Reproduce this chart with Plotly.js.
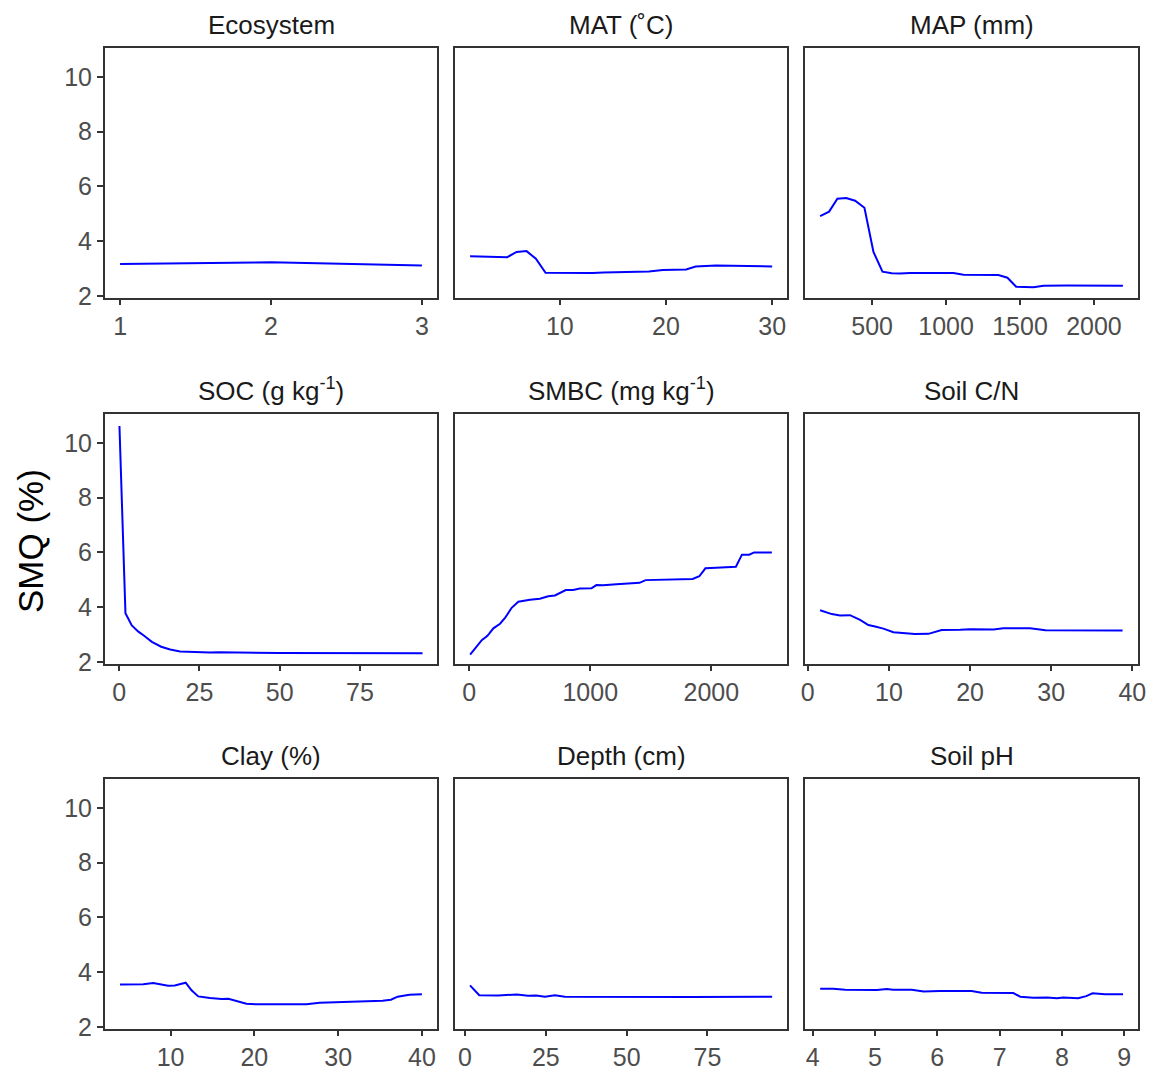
<!DOCTYPE html>
<html>
<head>
<meta charset="utf-8">
<script src="https://cdn.plot.ly/plotly-3.0.1.min.js"></script>
<style>html,body{margin:0;padding:0;background:#fff;}#chart{width:1153px;height:1069px;}</style>
</head>
<body>
<div id="chart"></div>
<script>
// ---- data ----
const panelTitles = ["Ecosystem", "MAT (˚C)", "MAP (mm)", "SOC (g kg<sup>-1</sup>)", "SMBC (mg kg<sup>-1</sup>)", "Soil C/N", "Clay (%)", "Depth (cm)", "Soil pH"];

const ecoX = [1, 2, 3];
const ecoY = [3.17, 3.23, 3.12];

const matX = [1.55, 5.05, 5.93, 6.87, 7.75, 8.66, 13.1, 14.1, 18.4, 19.7, 21.9, 22.8, 24.7, 27.8, 29.1, 30];
const matY = [3.45, 3.42, 3.61, 3.64, 3.36, 2.85, 2.84, 2.86, 2.90, 2.95, 2.97, 3.08, 3.12, 3.10, 3.08, 3.08];

const mapX = [148, 209, 265, 324, 385, 448, 509, 570, 633, 689, 757, 1050, 1118, 1185, 1354, 1415, 1474, 1591, 1659, 1817, 2020, 2196];
const mapY = [4.92, 5.08, 5.55, 5.58, 5.48, 5.22, 3.61, 2.89, 2.83, 2.82, 2.84, 2.84, 2.78, 2.77, 2.77, 2.67, 2.34, 2.32, 2.38, 2.39, 2.39, 2.38];

const socX = [0.1, 1.97, 3.94, 6.0, 7.88, 10.2, 13.1, 15.9, 19.0, 22.1, 25.2, 28.3, 31.0, 50, 94.5];
const socY = [10.61, 3.78, 3.34, 3.11, 2.95, 2.74, 2.56, 2.46, 2.39, 2.37, 2.37, 2.35, 2.36, 2.33, 2.32];

const smbcX = [8, 49, 104, 151, 200, 255, 296, 351, 406, 502, 584, 653, 708, 798, 859, 914, 1010, 1051, 1106, 1216, 1407, 1457, 1627, 1846, 1901, 1951, 2039, 2203, 2253, 2313, 2354, 2500];
const smbcY = [2.27, 2.49, 2.80, 2.96, 3.23, 3.40, 3.61, 3.98, 4.20, 4.27, 4.31, 4.40, 4.43, 4.63, 4.63, 4.68, 4.69, 4.81, 4.80, 4.84, 4.89, 4.99, 5.00, 5.03, 5.13, 5.42, 5.44, 5.48, 5.92, 5.92, 6.00, 6.00];

const cnX = [1.52, 2.96, 3.98, 5.2, 6.45, 7.47, 8.3, 9.32, 10.56, 11.8, 13.2, 14.87, 15.5, 16.5, 18.8, 20.0, 22.9, 24.1, 27.4, 29.3, 38.8];
const cnY = [3.89, 3.75, 3.70, 3.71, 3.54, 3.35, 3.30, 3.22, 3.09, 3.06, 3.02, 3.03, 3.09, 3.17, 3.18, 3.20, 3.19, 3.23, 3.23, 3.16, 3.15];

const clayX = [3.96, 6.74, 7.93, 9.7, 10.5, 11.8, 12.5, 13.3, 14.7, 16.1, 16.9, 17.9, 19.05, 20.2, 23.0, 26.2, 27.8, 30.95, 35.3, 36.3, 37.1, 38.5, 40];
const clayY = [3.55, 3.56, 3.61, 3.51, 3.52, 3.62, 3.34, 3.12, 3.06, 3.02, 3.03, 2.94, 2.85, 2.83, 2.82, 2.83, 2.89, 2.93, 2.96, 3.00, 3.11, 3.18, 3.20];

const depthX = [1.54, 4.4, 10.3, 13.9, 16.0, 19.5, 22.1, 24.7, 27.8, 30.9, 46.8, 70, 95];
const depthY = [3.52, 3.16, 3.15, 3.19, 3.19, 3.14, 3.15, 3.11, 3.16, 3.11, 3.10, 3.10, 3.11];

const phX = [4.12, 4.33, 4.52, 5.03, 5.19, 5.29, 5.59, 5.78, 6.04, 6.55, 6.71, 7.22, 7.33, 7.54, 7.76, 7.92, 8.02, 8.26, 8.39, 8.49, 8.69, 8.98];
const phY = [3.40, 3.40, 3.36, 3.35, 3.39, 3.36, 3.36, 3.30, 3.32, 3.32, 3.25, 3.24, 3.11, 3.07, 3.08, 3.05, 3.08, 3.05, 3.13, 3.23, 3.20, 3.20];

const xTicks = [
  [1, 2, 3],
  [10, 20, 30],
  [500, 1000, 1500, 2000],
  [0, 25, 50, 75],
  [0, 1000, 2000],
  [0, 10, 20, 30, 40],
  [10, 20, 30, 40],
  [0, 25, 50, 75],
  [4, 5, 6, 7, 8, 9]
];
const yTicks = [2, 4, 6, 8, 10];
const yAxisTitle = "SMQ (%)";

// ---- layout ----
const W = 1153, H = 1069;
const series = [[ecoX, ecoY], [matX, matY], [mapX, mapY], [socX, socY], [smbcX, smbcY], [cnX, cnY], [clayX, clayY], [depthX, depthY], [phX, phY]];
const xRanges = [[0.9, 3.1], [0.13, 31.4], [46, 2298], [-4.4, 99.0], [-117, 2625], [-0.34, 40.7], [2.17, 41.8], [-3.1, 99.6], [3.877, 9.22]];
const colPx = [[105, 437], [455, 787], [805, 1138]];
const rowPx = [[48, 298], [414, 664], [779, 1029]];
const yRange = [1.93, 11.05];

const traces = [];
const layout = {
  width: W, height: H,
  margin: {l: 0, r: 0, t: 0, b: 0},
  paper_bgcolor: "#ffffff",
  plot_bgcolor: "#ffffff",
  showlegend: false,
  font: {family: "Liberation Sans, Arial, sans-serif", color: "#4D4D4D"},
  annotations: []
};

for (let i = 0; i < 9; i++) {
  const r = Math.floor(i / 3), c = i % 3;
  const sfx = i === 0 ? "" : String(i + 1);
  traces.push({
    x: series[i][0], y: series[i][1],
    type: "scatter", mode: "lines",
    line: {color: "#0000FF", width: 2},
    xaxis: "x" + sfx, yaxis: "y" + sfx,
    hoverinfo: "skip"
  });
  layout["xaxis" + sfx] = {
    domain: [colPx[c][0] / W, colPx[c][1] / W],
    anchor: "y" + sfx,
    range: xRanges[i],
    tickmode: "array", tickvals: xTicks[i], ticktext: xTicks[i].map(String),
    ticks: "outside", ticklen: 5, tickwidth: 2, tickcolor: "#333333",
    tickfont: {size: 25, color: "#4D4D4D"},
    showline: true, mirror: true, linecolor: "#333333", linewidth: 2,
    showgrid: false, zeroline: false, fixedrange: true
  };
  layout["yaxis" + sfx] = {
    domain: [1 - rowPx[r][1] / H, 1 - rowPx[r][0] / H],
    anchor: "x" + sfx,
    range: yRange,
    tickmode: "array", tickvals: yTicks, ticktext: yTicks.map(String),
    ticks: c === 0 ? "outside" : "", ticklen: 6, tickwidth: 2, tickcolor: "#333333",
    showticklabels: c === 0,
    tickfont: {size: 25, color: "#4D4D4D"},
    showline: true, mirror: true, linecolor: "#333333", linewidth: 2,
    showgrid: false, zeroline: false, fixedrange: true
  };
  layout.annotations.push({
    text: panelTitles[i],
    xref: "paper", yref: "paper",
    x: (colPx[c][0] + colPx[c][1]) / 2 / W,
    y: 1 - (rowPx[r][0] - 6) / H,
    xanchor: "center", yanchor: "bottom",
    showarrow: false,
    font: {size: 26, color: "#1A1A1A"}
  });
}

layout.annotations.push({
  text: yAxisTitle,
  xref: "paper", yref: "paper",
  x: 30 / W, y: 1 - 541 / H,
  xanchor: "center", yanchor: "middle",
  textangle: -90, showarrow: false,
  font: {size: 35, color: "#000000"}
});

Plotly.newPlot("chart", traces, layout, {displayModeBar: false, staticPlot: true});
</script>
</body>
</html>
